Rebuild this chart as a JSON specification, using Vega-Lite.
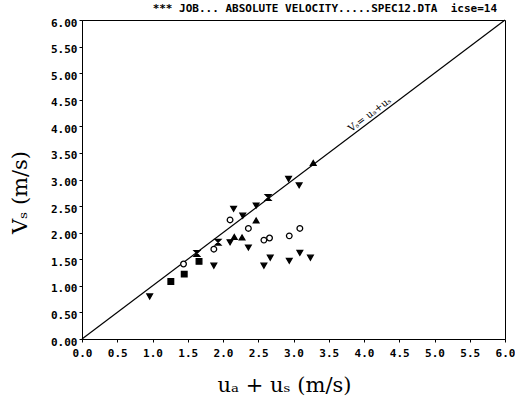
{
  "$schema": "https://vega.github.io/schema/vega-lite/v6.json",
  "width": 423,
  "height": 319,
  "autosize": {"type": "none"},
  "padding": {"left": 82, "top": 20, "right": 10, "bottom": 61},
  "background": "white",
  "title": {
    "text": "*** JOB... ABSOLUTE VELOCITY.....SPEC12.DTA\u00a0\u00a0icse=14",
    "anchor": "end",
    "frame": "group",
    "font": "DejaVu Sans Mono",
    "fontSize": 11,
    "fontWeight": "bold",
    "color": "black",
    "offset": 3,
    "dx": -8
  },
  "config": {
    "view": {"stroke": "black", "strokeWidth": 1},
    "axis": {
      "domainColor": "black",
      "tickColor": "black",
      "labelColor": "black",
      "labelFont": "DejaVu Sans Mono",
      "labelFontSize": 11,
      "labelFontWeight": "bold",
      "labelOverlap": false,
      "labelFlush": false,
      "tickSize": 3,
      "grid": false,
      "titleFont": "DejaVu Serif",
      "titleFontWeight": "normal",
      "titleColor": "black",
      "titleFontSize": 21
    }
  },
  "datasets": {
    "pts": [
      {"x": 0.96, "y": 0.80, "m": "down"},
      {"x": 1.26, "y": 1.08, "m": "square"},
      {"x": 1.45, "y": 1.22, "m": "square"},
      {"x": 1.44, "y": 1.41, "m": "circle"},
      {"x": 1.63, "y": 1.61, "m": "hourglass"},
      {"x": 1.66, "y": 1.46, "m": "square"},
      {"x": 1.87, "y": 1.38, "m": "down"},
      {"x": 1.87, "y": 1.69, "m": "circle"},
      {"x": 1.93, "y": 1.82, "m": "hourglass"},
      {"x": 2.10, "y": 1.82, "m": "down"},
      {"x": 2.16, "y": 1.92, "m": "up"},
      {"x": 2.27, "y": 1.91, "m": "up"},
      {"x": 2.36, "y": 1.72, "m": "down"},
      {"x": 2.10, "y": 2.24, "m": "circle"},
      {"x": 2.15, "y": 2.45, "m": "down"},
      {"x": 2.28, "y": 2.32, "m": "down"},
      {"x": 2.36, "y": 2.08, "m": "circle"},
      {"x": 2.47, "y": 2.23, "m": "up"},
      {"x": 2.47, "y": 2.51, "m": "down"},
      {"x": 2.64, "y": 2.66, "m": "hourglass"},
      {"x": 2.58, "y": 1.86, "m": "circle"},
      {"x": 2.66, "y": 1.90, "m": "circle"},
      {"x": 2.58, "y": 1.38, "m": "down"},
      {"x": 2.67, "y": 1.53, "m": "down"},
      {"x": 2.94, "y": 1.94, "m": "circle"},
      {"x": 3.09, "y": 2.08, "m": "circle"},
      {"x": 2.94, "y": 1.47, "m": "down"},
      {"x": 3.09, "y": 1.62, "m": "down"},
      {"x": 3.24, "y": 1.53, "m": "down"},
      {"x": 2.93, "y": 3.01, "m": "down"},
      {"x": 3.08, "y": 2.89, "m": "down"},
      {"x": 3.28, "y": 3.31, "m": "up"}
    ],
    "diag": [{"x": 0, "y": 0, "x2": 6, "y2": 6}],
    "lbl": [{"x": 4.13, "y": 4.13, "t": "Vₛ= uₐ+uₛ"}]
  },
  "encoding": {
    "x": {
      "field": "x", "type": "quantitative",
      "scale": {"domain": [0, 6], "nice": false},
      "axis": {
        "values": [0, 0.5, 1, 1.5, 2, 2.5, 3, 3.5, 4, 4.5, 5, 5.5, 6],
        "format": ".1f",
        "labelOverlap": false,
        "labelPadding": 5,
        "title": "uₐ + uₛ (m/s)",
        "titleX": 202,
        "titleY": 46,
        "titleAnchor": "middle",
        "titleAlign": "center",
        "titleBaseline": "middle"
      }
    },
    "y": {
      "field": "y", "type": "quantitative",
      "scale": {"domain": [0, 6], "nice": false},
      "axis": {
        "values": [0, 0.5, 1, 1.5, 2, 2.5, 3, 3.5, 4, 4.5, 5, 5.5, 6],
        "format": ".2f",
        "labelOverlap": false,
        "labelPadding": 2,
        "labelOffset": 3,
        "title": "Vₛ (m/s)",
        "titleX": -62,
        "titleY": 172,
        "titleAngle": -90,
        "titleAlign": "center",
        "titleBaseline": "middle"
      }
    }
  },
  "layer": [
    {
      "data": {"name": "diag"},
      "mark": {"type": "rule", "color": "black", "strokeWidth": 1.2},
      "encoding": {
        "x2": {"field": "x2"},
        "y2": {"field": "y2"}
      }
    },
    {
      "data": {"name": "lbl"},
      "mark": {"type": "text", "angle": -37, "baseline": "bottom", "align": "center", "font": "DejaVu Serif", "fontSize": 10, "color": "black", "dy": -1},
      "encoding": {
        "text": {"field": "t"}
      }
    },
    {
      "data": {"name": "pts"},
      "mark": {"type": "point", "filled": true, "stroke": "black", "strokeWidth": 1.3, "size": 32, "opacity": 1},
      "encoding": {
        "shape": {
          "field": "m", "type": "nominal",
          "scale": {
            "domain": ["down", "up", "circle", "square", "hourglass"],
            "range": ["triangle-down", "triangle-up", "circle", "square", "M-1,-1L1,-1L-1,1L1,1Z"]
          },
          "legend": null
        },
        "fill": {
          "field": "m", "type": "nominal",
          "scale": {
            "domain": ["down", "up", "circle", "square", "hourglass"],
            "range": ["black", "black", "white", "black", "black"]
          },
          "legend": null
        }
      }
    }
  ]
}
